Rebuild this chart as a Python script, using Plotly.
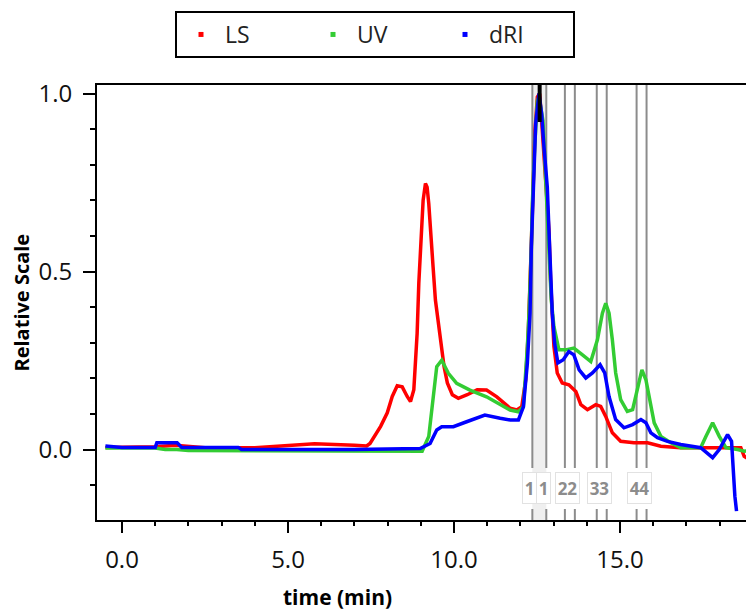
import plotly.graph_objects as go

# ---------------- data ----------------
ls_t = [-0.5, 1.0, 1.6, 2.5, 4.0, 5.0, 5.8, 7.0, 7.37, 7.47, 7.79, 7.99, 8.14, 8.29, 8.44, 8.59,
        8.69, 8.79, 8.84, 8.89, 8.94, 8.99, 9.07, 9.14, 9.19, 9.24, 9.29, 9.37, 9.44, 9.54, 9.62,
        9.70, 9.80, 9.95, 10.13, 10.40, 10.70, 10.98, 11.29, 11.69, 11.89, 12.04, 12.16, 12.24,
        12.31, 12.38, 12.44, 12.51, 12.58, 12.66, 12.76, 12.86, 12.91, 12.96, 13.01, 13.11, 13.26,
        13.46, 13.67, 13.82, 14.02, 14.27, 14.42, 14.57, 14.77, 15.02, 15.42, 15.83, 16.23, 16.83,
        17.5, 18.24, 18.64, 18.74, 18.89, 18.99]
ls_v = [0.006, 0.008, 0.012, 0.005, 0.005, 0.010, 0.016, 0.012, 0.010, 0.017, 0.065, 0.103, 0.149,
        0.179, 0.176, 0.149, 0.135, 0.168, 0.233, 0.327, 0.467, 0.579, 0.700, 0.747, 0.737, 0.691,
        0.607, 0.513, 0.420, 0.345, 0.280, 0.233, 0.187, 0.154, 0.144, 0.154, 0.168, 0.167, 0.148,
        0.116, 0.111, 0.120, 0.196, 0.336, 0.523, 0.710, 0.896, 0.990, 1.000, 0.896, 0.756, 0.616,
        0.476, 0.392, 0.289, 0.215, 0.187, 0.182, 0.163, 0.126, 0.112, 0.126, 0.121, 0.093, 0.047,
        0.023, 0.019, 0.019, 0.009, 0.005, 0.005, 0.005, 0.005, -0.019, -0.028, -0.033]

uv_t = [-0.5, 1.0, 1.3, 1.65, 2.0, 3.5, 5.0, 7.0, 9.04, 9.24, 9.38, 9.48, 9.63, 9.83, 10.08, 10.48,
        10.98, 11.39, 11.69, 11.94, 12.09, 12.21, 12.26, 12.33, 12.36, 12.43, 12.51, 12.56, 12.68,
        12.74, 12.81, 12.88, 12.93, 13.01, 13.16, 13.36, 13.61, 13.87, 14.12, 14.32, 14.47, 14.57,
        14.67, 14.77, 14.87, 15.02, 15.22, 15.38, 15.53, 15.66, 15.78, 15.91, 16.03, 16.23, 16.53,
        16.83, 17.43, 17.59, 17.79, 17.99, 18.19, 18.54, 18.74, 19.04]
uv_v = [0.004, 0.004, 0.000, 0.000, -0.003, -0.003, -0.003, -0.005, -0.005, 0.037, 0.148, 0.233,
        0.251, 0.214, 0.186, 0.167, 0.148, 0.125, 0.111, 0.106, 0.120, 0.289, 0.383, 0.570, 0.691,
        0.850, 0.980, 0.990, 0.924, 0.803, 0.663, 0.523, 0.420, 0.345, 0.280, 0.280, 0.285, 0.266,
        0.247, 0.308, 0.383, 0.411, 0.383, 0.308, 0.215, 0.140, 0.107, 0.112, 0.177, 0.224, 0.196,
        0.131, 0.075, 0.037, 0.019, 0.005, 0.005, 0.037, 0.075, 0.037, 0.005, 0.000, -0.005, 0.000]

ri_t = [-0.5, -0.3, 0.0, 1.0, 1.05, 1.66, 1.8, 3.5, 3.6, 7.0, 8.98, 9.28, 9.48, 9.63, 9.98, 10.38,
        10.93, 11.39, 11.69, 11.94, 12.09, 12.21, 12.29, 12.33, 12.39, 12.46, 12.56, 12.64, 12.71,
        12.81, 12.86, 12.91, 12.96, 13.03, 13.13, 13.29, 13.46, 13.61, 13.77, 13.97, 14.17, 14.40,
        14.54, 14.67, 14.87, 15.12, 15.38, 15.63, 15.78, 15.93, 16.13, 16.43, 16.83, 17.43, 17.79,
        17.99, 18.24, 18.36, 18.41, 18.46, 18.51]
ri_v = [0.010, 0.008, 0.006, 0.006, 0.019, 0.019, 0.006, 0.006, 0.000, 0.000, 0.003, 0.017, 0.055,
        0.064, 0.064, 0.078, 0.097, 0.088, 0.083, 0.083, 0.120, 0.243, 0.383, 0.570, 0.756, 0.915,
        1.000, 0.943, 0.850, 0.737, 0.616, 0.476, 0.383, 0.299, 0.243, 0.252, 0.275, 0.266, 0.224,
        0.201, 0.215, 0.238, 0.215, 0.149, 0.084, 0.061, 0.070, 0.084, 0.075, 0.047, 0.033, 0.023,
        0.014, 0.005, -0.023, 0.000, 0.042, 0.023, -0.065, -0.131, -0.173]

series_names = ["LS", "UV", "dRI"]
series_colors = ["#ff0000", "#33cc33", "#0000ff"]

# fraction markers (pairs of vertical lines) and their labels
marker_ids = [1, 2, 3, 4]
marker_start = [12.36, 13.34, 14.30, 15.50]
marker_end = [12.78, 13.64, 14.60, 15.80]
peak_mark_t = 12.58

# ---------------- layout geometry (page pixels; page has 8px body margin) ----------------
OFF = 8
W, H = 754, 613
P_LEFT, P_TOP, P_BOTTOM = 97, 85, 520          # plot edges on the page
ML = P_LEFT - OFF
MT = P_TOP - OFF
MB = H - (P_BOTTOM - OFF)
MR = 0
PW = W - ML - MR
PH = H - MT - MB
PX_PER_MIN = 33.2
X0_PAGE = 122                                   # page x of t = 0
x_range = [-(X0_PAGE - P_LEFT) / PX_PER_MIN, -(X0_PAGE - P_LEFT) / PX_PER_MIN + PW / PX_PER_MIN]
y_range = [-0.198, 1.024]
FONT = "Open Sans"

fig = go.Figure()

for t, v, name, col in zip([ls_t, uv_t, ri_t], [ls_v, uv_v, ri_v], series_names, series_colors):
    fig.add_trace(go.Scatter(x=t, y=v, mode="lines", line=dict(color=col, width=3.5),
                             showlegend=False, hoverinfo="skip"))
    fig.add_trace(go.Scatter(x=[None], y=[None], mode="markers", name=name,
                             marker=dict(symbol="square", size=5, color=col)))


def py2y(p):  # page y pixel -> data y
    return y_range[1] - (p - P_TOP) / PH * (y_range[1] - y_range[0])


shapes = []
shapes.append(dict(type="rect", xref="x", yref="paper", x0=marker_start[0], x1=marker_end[0],
                   y0=0, y1=1, fillcolor="rgba(220,220,220,0.45)", line=dict(width=0),
                   layer="below"))
lab_top, lab_bot = py2y(468), py2y(509)
for a, b in zip(marker_start, marker_end):
    for xv in (a, b):
        shapes.append(dict(type="line", xref="x", yref="y", x0=xv, x1=xv, y0=lab_top,
                           y1=y_range[1], line=dict(color="#8c8c8c", width=2), layer="below"))
        shapes.append(dict(type="line", xref="x", yref="y", x0=xv, x1=xv, y0=y_range[0],
                           y1=lab_bot, line=dict(color="#8c8c8c", width=2), layer="below"))
shapes.append(dict(type="line", xref="x", yref="y", x0=peak_mark_t, x1=peak_mark_t,
                   y0=py2y(122), y1=y_range[1], line=dict(color="black", width=4)))

annotations = []
lab_y = py2y(488)
for mid, a, b in zip(marker_ids, marker_start, marker_end):
    if (b - a) * PX_PER_MIN > 12:
        for xv in (a, b):
            annotations.append(dict(x=xv, y=lab_y, xref="x", yref="y", text=str(mid),
                                    showarrow=False, xshift=-2.5, width=11, height=28,
                                    bgcolor="white", bordercolor="#e2e2e2", borderwidth=1,
                                    font=dict(family=FONT, size=17, color="#8c8c8c",
                                              weight="bold")))
    else:
        annotations.append(dict(x=(a + b) / 2, y=lab_y, xref="x", yref="y",
                                text=str(mid) * 2, showarrow=False, xshift=-2, width=21,
                                height=28, bgcolor="white", bordercolor="#e2e2e2",
                                borderwidth=1,
                                font=dict(family=FONT, size=17, color="#8c8c8c",
                                          weight="bold")))

annotations.append(dict(text="<b>time (min)</b>", xref="paper", yref="paper",
                        x=(337 - P_LEFT) / PW, y=-(597 - P_BOTTOM) / PH,
                        xanchor="center", yanchor="middle",
                        showarrow=False, font=dict(family=FONT, size=21, color="black")))
annotations.append(dict(text="<b>Relative Scale</b>", xref="paper", yref="paper",
                        x=-(P_LEFT - 21) / PW, y=0.5, textangle=-90,
                        xanchor="center", yanchor="middle",
                        showarrow=False, font=dict(family=FONT, size=20, color="black")))

fig.update_layout(
    width=W, height=H,
    margin=dict(l=ML, r=MR, t=MT, b=MB, autoexpand=False),
    paper_bgcolor="white", plot_bgcolor="white",
    font=dict(family=FONT, color="black"),
    shapes=shapes, annotations=annotations,
    legend=dict(orientation="h", x=(175 - P_LEFT) / PW, xanchor="left",
                y=1 + (P_TOP - 11) / PH, yanchor="top",
                bordercolor="black", borderwidth=2, bgcolor="white",
                itemwidth=38, entrywidth=79, entrywidthmode="pixels",
                font=dict(family=FONT, size=23, color="#222")),
    xaxis=dict(range=x_range, showgrid=False, zeroline=False, showline=True,
               linecolor="black", linewidth=2, mirror=True,
               ticks="outside", ticklen=11, tickwidth=2, tickcolor="black",
               tick0=0, dtick=5, tickformat=".1f", ticklabelstandoff=6,
               tickfont=dict(family=FONT, size=24, color="#111"),
               minor=dict(ticks="outside", ticklen=4, tickwidth=2, tickcolor="black",
                          dtick=1, tick0=0, showgrid=False)),
    yaxis=dict(range=y_range, showgrid=False, zeroline=False, showline=True,
               linecolor="black", linewidth=2,
               ticks="outside", ticklen=12, tickwidth=2, tickcolor="black",
               tick0=0, dtick=0.5, tickformat=".1f", ticklabelstandoff=6,
               tickfont=dict(family=FONT, size=24, color="#111"),
               minor=dict(ticks="outside", ticklen=5, tickwidth=2, tickcolor="black",
                          dtick=0.1, tick0=0, showgrid=False)),
)

fig.write_html("out.html")
